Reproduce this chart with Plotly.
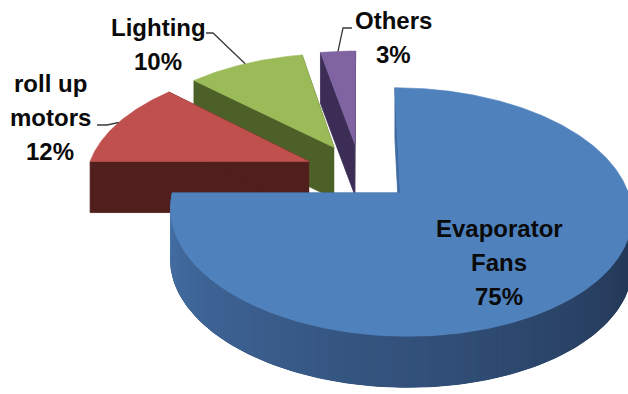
import numpy as np
import plotly.graph_objects as go

# ---- data -------------------------------------------------------------
labels = ["Evaporator Fans", "roll up motors", "Lighting", "Others"]
values = [75, 12, 10, 3]
label_lines = [["Evaporator", "Fans"], ["roll up", "motors"], ["Lighting"], ["Others"]]

# ---- styling ----------------------------------------------------------
top_colors = ["#4F81BD", "#C0504D", "#9BBB59", "#8064A2"]
side_colors = ["#3F6AA2", "#501E1C", "#4D6028", "#3B2D56"]
wall_dark = [(32, 50, 78), (70, 24, 22), (66, 82, 34), (50, 38, 74)]
wall_light = [(70, 114, 170), (96, 34, 32), (84, 104, 44), (64, 50, 94)]

# projection of the tilted disc (perspective)
CX, CY = 360.0, 172.0
KX, KY = 222.0, 115.0
PERSP = 0.15
DEPTH = 51.0
EXPLODE = 0.25

# label anchors (centre x, first-line centre y) and leader elbows
label_pos = [(499, 228), (50, 83), (158, 27), (393, 20)]
leader_start = [None, (97, 125), (206, 33), (352, 28)]
leader_elbow = [None, (107, 125), (213, 33), (343, 28)]
LINE_H = 34


def proj(u, v, h=0.0):
    s = 1.0 - PERSP * v
    return CX + KX * u / s, CY + KY * v / s + h


def disc(theta_deg, r, off):
    t = np.radians(theta_deg)
    return off[0] + r * np.sin(t), off[1] - r * np.cos(t)


def poly(xs, ys, color, lw=0.8):
    line = dict(color=color, width=lw)
    return go.Scatter(x=list(xs), y=list(ys), mode="lines", fill="toself",
                      fillcolor=color, line=line,
                      hoverinfo="skip", showlegend=False)


def rgb(c):
    return "rgb(%d,%d,%d)" % tuple(int(round(x)) for x in c)


def wall_shade(i, t):
    w = np.clip((t - 95.0) / 175.0, 0, 1)
    return [wall_dark[i][c] + (wall_light[i][c] - wall_dark[i][c]) * w for c in range(3)]


def wall_poly(t0, t1, off, color, lw=0.0):
    arc = np.linspace(t0, t1, max(int(t1 - t0), 3))
    top = [proj(*disc(a, 1.0, off)) for a in arc]
    xs = [p[0] for p in top] + [p[0] for p in top[::-1]]
    ys = [p[1] for p in top] + [p[1] + DEPTH for p in top[::-1]]
    return poly(xs, ys, color, lw=lw)


total = float(sum(values))
starts = np.cumsum([0] + values[:-1]) / total * 360.0
ends = np.cumsum(values) / total * 360.0
mids = (starts + ends) / 2.0

slices = []
for i in range(len(values)):
    m = np.radians(mids[i])
    off = (EXPLODE * np.sin(m), -EXPLODE * np.cos(m))
    slices.append(dict(i=i, a0=starts[i], a1=ends[i], off=off))

# paint the farthest slice first
slices.sort(key=lambda s: s["off"][1])

traces = []
for s in slices:
    i, a0, a1, off = s["i"], s["a0"], s["a1"], s["off"]
    vx, vy = proj(off[0], off[1])
    vyb = vy + DEPTH

    # radial faces
    for a in (a0, a1):
        u, v = disc(a, 1.0, off)
        ox, oy = proj(u, v)
        traces.append(poly([vx, ox, ox, vx], [vy, oy, oy + DEPTH, vyb], side_colors[i]))

    # curved outer wall (front-facing part only): base fill, then shaded strips
    w0, w1 = max(a0, 90.0), min(a1, 270.0)
    if w1 > w0:
        traces.append(wall_poly(w0, w1, off, rgb(wall_shade(i, 0.5 * (w0 + w1))), lw=0.8))
        n = max(int((w1 - w0) / 1.5), 4)
        th = np.linspace(w0, w1, n + 1)
        step = th[1] - th[0]
        segs = []
        for k in range(n):
            t0, t1 = th[k], min(th[k + 1] + step, w1)
            tm = 0.5 * (th[k] + th[k + 1])
            segs.append((-np.cos(np.radians(tm)),
                         wall_poly(t0, t1, off, rgb(wall_shade(i, tm)))))
        segs.sort(key=lambda t: t[0])
        traces.extend(t[1] for t in segs)

    # top face
    arc = np.linspace(a0, a1, max(int((a1 - a0) * 2), 8))
    pts = [proj(*disc(a, 1.0, off)) for a in arc]
    xs = [vx] + [p[0] for p in pts] + [vx]
    ys = [vy] + [p[1] for p in pts] + [vy]
    traces.append(poly(xs, ys, top_colors[i], lw=0.6))

# leader lines from the outer edge of each small slice
for s in slices:
    i = s["i"]
    if leader_start[i] is None:
        continue
    ex, ey = proj(*disc(mids[i], 1.0, s["off"]))
    sx, sy = leader_start[i]
    bx, by = leader_elbow[i]
    traces.append(go.Scatter(x=[sx, bx, ex], y=[sy, by, ey], mode="lines",
                             line=dict(color="#3a3a3a", width=1.3),
                             hoverinfo="skip", showlegend=False))

fig = go.Figure(traces)

annotations = []
for i, lines in enumerate(label_lines):
    pct = "%d%%" % round(values[i] / total * 100)
    x0, y0 = label_pos[i]
    for j, txt in enumerate(lines + [pct]):
        annotations.append(dict(x=x0, y=y0 + j * LINE_H, xref="x", yref="y",
                                text="<b>%s</b>" % txt, showarrow=False,
                                xanchor="center", yanchor="middle",
                                font=dict(family="Liberation Sans, Arial, sans-serif",
                                          size=24, color="#0a0a0a")))

fig.update_layout(
    width=628, height=394,
    margin=dict(l=0, r=0, t=0, b=0),
    paper_bgcolor="white", plot_bgcolor="white",
    xaxis=dict(range=[0, 628], visible=False, fixedrange=True),
    yaxis=dict(range=[394, 0], visible=False, fixedrange=True),
    annotations=annotations,
)

fig.write_html("out.html")
